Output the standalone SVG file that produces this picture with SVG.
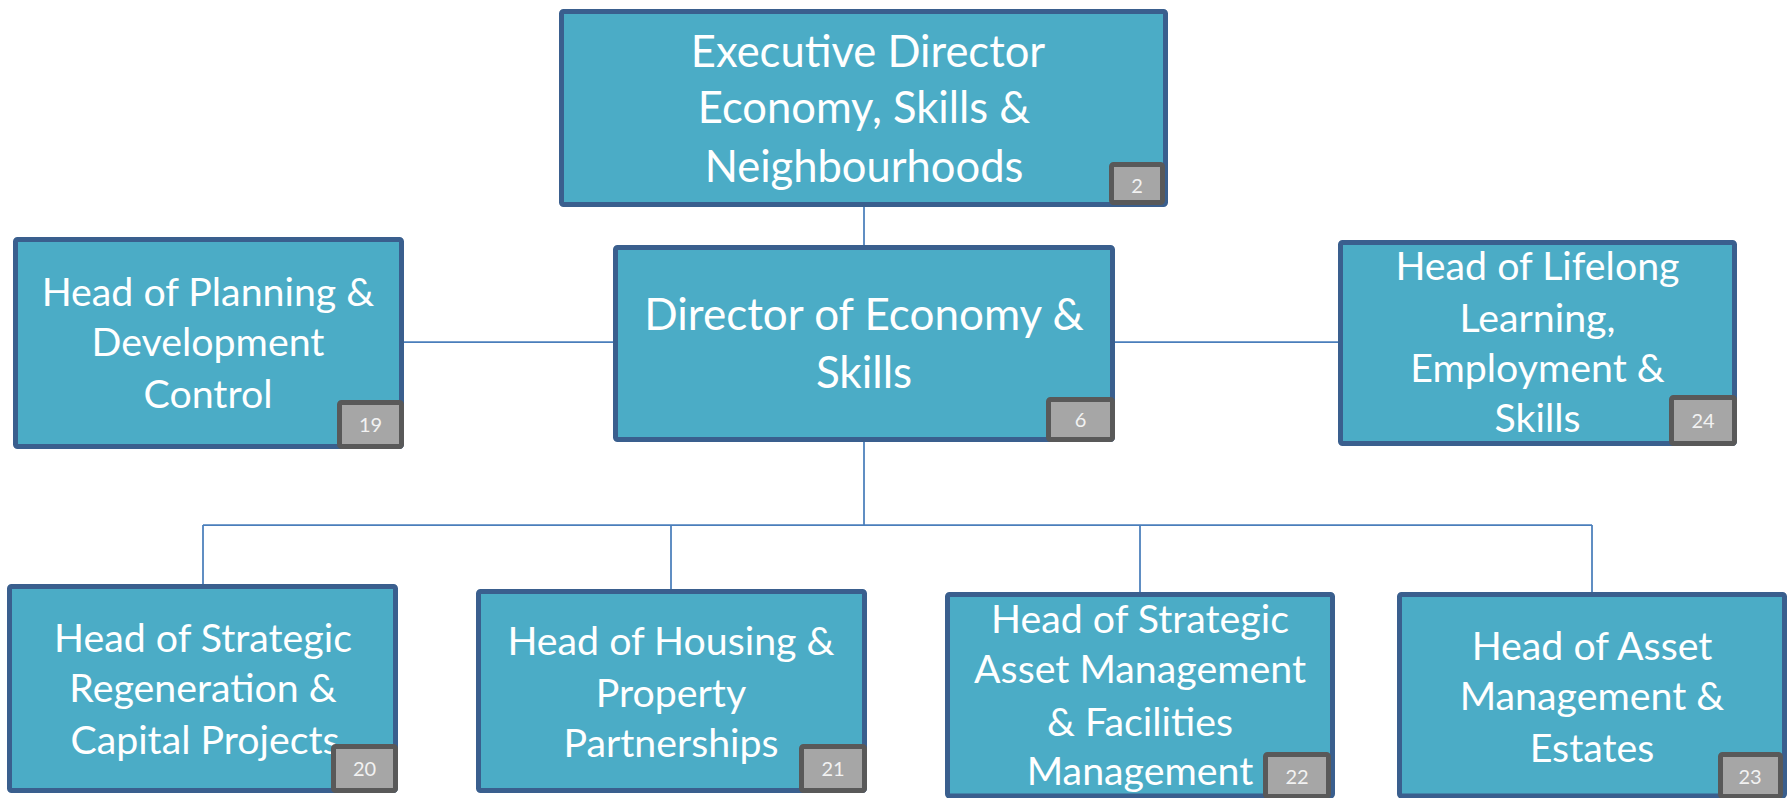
<svg xmlns="http://www.w3.org/2000/svg" width="1789" height="798" viewBox="0 0 1789 798">
<style>
.box{fill:#4bacc6;stroke:#3a5f8e;stroke-width:5}
.badge{fill:#a6a6a6;stroke:#595959;stroke-width:5}
.t{font-family:Lato,"Open Sans","Liberation Sans",sans-serif;fill:#ffffff;text-anchor:middle}
.big{font-size:43.5px}
.dir{font-size:44px}
.mid{font-size:39.3px}
.num{font-family:Lato,"Open Sans","Liberation Sans",sans-serif;font-size:20px;fill:#f2f2f2;text-anchor:middle}
.c{fill:none;stroke:#4a7ebb;stroke-width:1.75}
</style>
<rect width="1789" height="798" fill="#ffffff"/>
<g id="connectors">
<line class="c" x1="864" y1="207" x2="864" y2="245"/>
<line class="c" x1="404" y1="342" x2="613" y2="342"/>
<line class="c" x1="1115" y1="342" x2="1338" y2="342"/>
<line class="c" x1="864" y1="442" x2="864" y2="525"/>
<line class="c" x1="203" y1="525" x2="1592" y2="525"/>
<line class="c" x1="203" y1="525" x2="203" y2="584"/>
<line class="c" x1="671" y1="525" x2="671" y2="589"/>
<line class="c" x1="1140" y1="525" x2="1140" y2="592"/>
<line class="c" x1="1592" y1="525" x2="1592" y2="592"/>
</g>
<g id="exec">
<rect class="box" x="561.5" y="11.5" width="604" height="193" rx="2"/>
<text class="t big" x="868" y="67">Executive Director</text>
<text class="t big" x="864" y="123">Economy, Skills &amp;</text>
<text class="t big" x="864" y="182">Neighbourhoods</text>
<rect class="badge" x="1111.5" y="164.5" width="51" height="38" rx="2"/>
<text class="num" x="1137" y="193">2</text>
</g>
<g id="director">
<rect class="box" x="615.5" y="247.5" width="497" height="192" rx="2"/>
<text class="t dir" x="864" y="330">Director of Economy &amp;</text>
<text class="t dir" x="864" y="388">Skills</text>
<rect class="badge" x="1048.5" y="399.5" width="64" height="40" rx="2"/>
<text class="num" x="1080.5" y="427">6</text>
</g>
<g id="planning">
<rect class="box" x="15.5" y="239.5" width="386" height="207" rx="2"/>
<text class="t mid" x="208" y="306">Head of Planning &amp;</text>
<text class="t mid" x="208" y="356">Development</text>
<text class="t mid" x="208" y="408">Control</text>
<rect class="badge" x="339.5" y="402.5" width="62" height="44" rx="2"/>
<text class="num" x="370.5" y="432">19</text>
</g>
<g id="lifelong">
<rect class="box" x="1340.5" y="242.5" width="394" height="201" rx="2"/>
<text class="t mid" x="1537.5" y="280">Head of Lifelong</text>
<text class="t mid" x="1537.5" y="332">Learning,</text>
<text class="t mid" x="1537.5" y="382">Employment &amp;</text>
<text class="t mid" x="1537.5" y="432">Skills</text>
<rect class="badge" x="1671.5" y="397.5" width="63" height="46" rx="2"/>
<text class="num" x="1703" y="428">24</text>
</g>
<g id="regeneration">
<rect class="box" x="9.5" y="586.5" width="386" height="204" rx="2"/>
<text class="t mid" x="203" y="652">Head of Strategic</text>
<text class="t mid" x="203" y="702">Regeneration &amp;</text>
<text class="t mid" x="205" y="754">Capital Projects</text>
<rect class="badge" x="333.5" y="746.5" width="62" height="44" rx="2"/>
<text class="num" x="364.5" y="776">20</text>
</g>
<g id="housing">
<rect class="box" x="478.5" y="591.5" width="386" height="199" rx="2"/>
<text class="t mid" x="671" y="655">Head of Housing &amp;</text>
<text class="t mid" x="671" y="707">Property</text>
<text class="t mid" x="671" y="757">Partnerships</text>
<rect class="badge" x="801.5" y="746.5" width="63" height="44" rx="2"/>
<text class="num" x="833" y="776">21</text>
</g>
<g id="facilities">
<rect class="box" x="947.5" y="594.5" width="385" height="201.5" rx="2"/>
<text class="t mid" x="1140" y="633">Head of Strategic</text>
<text class="t mid" x="1140" y="683">Asset Management</text>
<text class="t mid" x="1140" y="736">&amp; Facilities</text>
<text class="t mid" x="1140" y="785">Management</text>
<rect class="badge" x="1265.5" y="754.5" width="63" height="42" rx="2"/>
<text class="num" x="1297" y="784">22</text>
</g>
<g id="estates">
<rect class="box" x="1399.5" y="594.5" width="385" height="201.5" rx="2"/>
<text class="t mid" x="1592" y="660">Head of Asset</text>
<text class="t mid" x="1592" y="710">Management &amp;</text>
<text class="t mid" x="1592" y="762">Estates</text>
<rect class="badge" x="1720.5" y="754.5" width="60" height="42" rx="2"/>
<text class="num" x="1750" y="784">23</text>
</g>
</svg>
